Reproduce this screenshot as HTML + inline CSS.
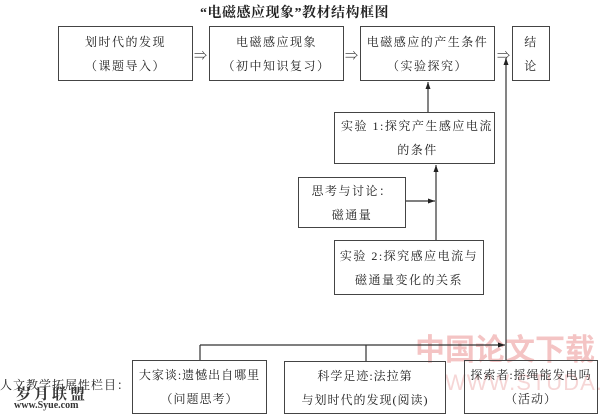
<!DOCTYPE html>
<html><head><meta charset="utf-8"><style>
html,body{margin:0;padding:0;background:#fff;}
body{width:600px;height:415px;position:relative;overflow:hidden;font-family:"Liberation Serif","Noto Serif CJK SC","Noto Sans CJK SC",serif;color:#222;}
.b{position:absolute;border:1.5px solid #444;box-sizing:border-box;display:flex;flex-direction:column;justify-content:center;align-items:center;font-size:12px;line-height:24px;letter-spacing:1.5px;text-align:center;}
.t{position:absolute;font-size:12px;white-space:nowrap;}
</style></head><body>
<div style="position:absolute;left:415px;top:330px;font-size:30px;line-height:34px;color:#f4c4c4;font-family:'Noto Sans CJK SC',sans-serif;font-weight:bold;white-space:nowrap">中国论文下载</div>
<div style="position:absolute;left:445px;top:370px;font-size:22px;line-height:26px;color:#f6d6d6;font-family:'Liberation Sans',sans-serif;white-space:nowrap;letter-spacing:1px">WWW.STUDA.</div>
<div class="t" style="left:200px;top:2px;font-size:14px;font-weight:bold;letter-spacing:0.5px">“电磁感应现象”教材结构框图</div>

<div class="b" style="left:58px;top:26px;width:135px;height:55px">划时代的发现<br>（课题导入）</div>
<div class="b" style="left:209px;top:26px;width:135px;height:55px">电磁感应现象<br>（初中知识复习）</div>
<div class="b" style="left:360px;top:26px;width:135px;height:55px">电磁感应的产生条件<br>（实验探究）</div>
<div class="b" style="left:512px;top:26px;width:38px;height:55px">结<br>论</div>
<div class="t" style="left:194px;top:45px;font-size:13px">⇒</div>
<div class="t" style="left:345px;top:45px;font-size:13px">⇒</div>
<div class="t" style="left:497px;top:45px;font-size:13px">⇒</div>

<div class="b" style="left:334px;top:112px;width:161px;height:52px;align-items:flex-start;padding-left:6px">实验 1:探究产生感应电流<br><span style="align-self:center">的条件</span></div>
<div class="b" style="left:298px;top:177px;width:108px;height:51px">思考与讨论：<br>磁通量</div>
<div class="b" style="left:334px;top:240px;width:150px;height:55px">实验 2:探究感应电流与<br>磁通量变化的关系</div>

<div class="b" style="left:132px;top:360px;width:135px;height:54px;letter-spacing:1px">大家谈:遗憾出自哪里<br>（问题思考）</div>
<div class="b" style="left:284px;top:361px;width:162px;height:53px;letter-spacing:1px">科学足迹:法拉第<br>与划时代的发现(阅读)</div>
<div class="b" style="left:464px;top:360px;width:134px;height:54px;letter-spacing:1px">探索者:摇绳能发电吗<br>（活动）</div>
<div class="t" style="left:0px;top:376px;font-size:12px;letter-spacing:1px">人文教学拓展性栏目：</div>
<div class="t" style="left:16px;top:383px;font-size:15px;font-weight:bold;color:#333;letter-spacing:3px">岁月联盟</div>
<div class="t" style="left:14px;top:400px;font-size:10px;font-weight:bold;color:#333">www.Syue.com</div>

<svg width="600" height="415" style="position:absolute;left:0;top:0" viewBox="0 0 600 415">
<defs><marker id="a" markerWidth="8" markerHeight="8" refX="7" refY="4" orient="auto" markerUnits="userSpaceOnUse"><path d="M0,1.5 L7,4 L0,6.5 Z" fill="#222"/></marker></defs>
<g stroke="#333" stroke-width="1.2" fill="none">
<line x1="428" y1="112" x2="428" y2="82" marker-end="url(#a)"/>
<line x1="436" y1="240" x2="436" y2="165" marker-end="url(#a)"/>
<line x1="406" y1="201" x2="435" y2="201" marker-end="url(#a)"/>
<line x1="506" y1="360" x2="506" y2="58" marker-end="url(#a)"/>
<line x1="200" y1="360" x2="200" y2="345"/>
<line x1="366" y1="361" x2="366" y2="345"/>
<line x1="200" y1="345" x2="505" y2="345" marker-end="url(#a)"/>
</g>
</svg>
</body></html>
